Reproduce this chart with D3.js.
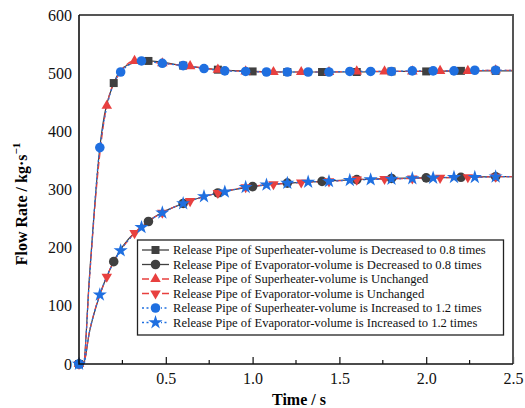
<!DOCTYPE html>
<html>
<head>
<meta charset="utf-8">
<script src="https://cdn.jsdelivr.net/npm/d3@7"></script>
<style>
  body { margin: 0; background: #fff; }
  svg { display: block; }
</style>
</head>
<body>
<svg width="525" height="408" font-family="Liberation Serif"></svg>
<script>
// values
const supDecTime = [0, 0.025, 0.06, 0.12, 0.2, 0.28, 0.4, 0.6, 0.8, 1.0, 1.2, 1.4, 1.6, 1.8, 2.0, 2.2, 2.4, 2.5];
const supDecValue = [0, 0, 150, 372, 483, 514, 521, 513, 506, 503, 502, 502, 502, 503, 503, 504, 504, 504];

const evaDecTime = [0, 0.025, 0.06, 0.12, 0.2, 0.4, 0.6, 0.8, 1.0, 1.2, 1.4, 1.6, 1.8, 2.0, 2.2, 2.4, 2.5];
const evaDecValue = [0, 0, 55, 119, 176, 245, 276, 294, 305, 311, 314, 317, 319, 320, 321, 322, 322];

const supUncTime = [0, 0.025, 0.06, 0.1, 0.16, 0.24, 0.32, 0.48, 0.64, 0.8, 0.96, 1.12, 1.28, 1.44, 1.6, 1.76, 1.92, 2.08, 2.24, 2.4, 2.5];
const supUncValue = [0, 0, 145, 300, 444, 502, 521, 517, 512, 506, 503, 502, 502, 502, 503, 503, 503, 504, 504, 505, 505];

const evaUncTime = [0, 0.025, 0.06, 0.16, 0.32, 0.48, 0.64, 0.8, 0.96, 1.12, 1.28, 1.44, 1.6, 1.76, 1.92, 2.08, 2.24, 2.4, 2.5];
const evaUncValue = [0, 0, 55, 150, 225, 260, 280, 294, 304, 309, 312, 314, 317, 318, 319, 320, 321, 322, 322];

const supIncTime = [0, 0.025, 0.06, 0.12, 0.24, 0.36, 0.48, 0.6, 0.72, 0.84, 0.96, 1.08, 1.2, 1.32, 1.44, 1.56, 1.68, 1.8, 1.92, 2.04, 2.16, 2.28, 2.4, 2.5];
const supIncValue = [0, 0, 145, 372, 502, 521, 517, 513, 508, 504, 503, 502, 502, 502, 502, 503, 503, 503, 504, 504, 504, 505, 505, 505];

const evaIncTime = [0, 0.025, 0.06, 0.12, 0.24, 0.36, 0.48, 0.6, 0.72, 0.84, 0.96, 1.08, 1.2, 1.32, 1.44, 1.56, 1.68, 1.8, 1.92, 2.04, 2.16, 2.28, 2.4, 2.5];
const evaIncValue = [0, 0, 55, 119, 195, 235, 260, 276, 288, 296, 304, 308, 311, 313, 314, 316, 317, 318, 319, 320, 321, 321, 322, 322];

const legendLabels = [
  'Release Pipe of Superheater-volume is Decreased to 0.8 times',
  'Release Pipe of Evaporator-volume is Decreased to 0.8 times',
  'Release Pipe of Superheater-volume is Unchanged',
  'Release Pipe of Evaporator-volume is Unchanged',
  'Release Pipe of Superheater-volume is Increased to 1.2 times',
  'Release Pipe of Evaporator-volume is Increased to 1.2 times',
];

const xTicks = [0.5, 1.0, 1.5, 2.0, 2.5];
const xMinorTicks = [0.25, 0.75, 1.25, 1.75, 2.25];
const yTicks = [0, 100, 200, 300, 400, 500, 600];

const FONT = 'Liberation Serif';
const gray = '#404040', red = '#e8403f', blue = '#1f6fe0';
const zip = (t, v) => t.map((d, i) => ({t: d, v: v[i]}));

// step = spacing of the markers along each line
const series = [
  {data: zip(supDecTime, supDecValue), color: gray, dash: null, sym: d3.symbolSquare, size: 64, rot: 0, step: 0.2},
  {data: zip(evaDecTime, evaDecValue), color: gray, dash: null, sym: d3.symbolCircle, size: 72, rot: 0, step: 0.2},
  {data: zip(supUncTime, supUncValue), color: red, dash: '7,3', sym: d3.symbolTriangle, size: 48, rot: 0, step: 0.16},
  {data: zip(evaUncTime, evaUncValue), color: red, dash: '7,3', sym: d3.symbolTriangle, size: 48, rot: 180, step: 0.16},
  {data: zip(supIncTime, supIncValue), color: blue, dash: '2,2.5', sym: d3.symbolCircle, size: 72, rot: 0, step: 0.12},
  {data: zip(evaIncTime, evaIncValue), color: blue, dash: '2,2.5', sym: d3.symbolStar, size: 62, rot: 0, step: 0.12},
];

const margin = {top: 15, right: 12, bottom: 44, left: 79};
const width = 525, height = 408;

const x = d3.scaleLinear().domain([0, 2.5]).range([margin.left, width - margin.right]);
const y = d3.scaleLinear().domain([0, 600]).range([height - margin.bottom, margin.top]);

const svg = d3.select('svg');

const line = d3.line().curve(d3.curveMonotoneX)
  .x(d => x(d.t))
  .y(d => y(d.v));

const isMark = (t, step) => Math.abs(t / step - Math.round(t / step)) < 1e-6;

// lines
svg.append('g').selectAll('path')
  .data(series)
  .join('path')
  .attr('d', s => line(s.data))
  .attr('fill', 'none')
  .attr('stroke', s => s.color)
  .attr('stroke-width', 1.2)
  .attr('stroke-dasharray', s => s.dash);

// markers
series.forEach(s => {
  const sym = d3.symbol(s.sym, s.size);
  svg.append('g').selectAll('path')
    .data(s.data.filter(d => isMark(d.t, s.step)))
    .join('path')
    .attr('d', sym)
    .attr('transform', d => `translate(${x(d.t)},${y(d.v)}) rotate(${s.rot})`)
    .attr('fill', s.color);
});

// x axis
{
  const g = svg.append('g')
    .attr('transform', `translate(0,${y(0)})`)
    .call(d3.axisBottom(x).tickValues(xTicks).tickFormat(d3.format('.1f')).tickSize(-7).tickPadding(9))
    .attr('font-family', FONT);
  g.select('.domain').remove();
  g.selectAll('text').attr('font-family', FONT).attr('font-size', 16).attr('fill', '#111');
  g.selectAll('.tick line').attr('stroke', '#111').attr('stroke-width', 1.2);
  g.selectAll('.minor')
    .data(xMinorTicks)
    .join('line')
    .attr('x1', d => x(d)).attr('x2', d => x(d))
    .attr('y1', 0).attr('y2', -4)
    .attr('stroke', '#111').attr('stroke-width', 1.2);
}

// y axis
{
  const g = svg.append('g')
    .attr('transform', `translate(${margin.left},0)`)
    .call(d3.axisLeft(y).tickValues(yTicks).tickSize(0).tickPadding(7))
    .attr('font-family', FONT);
  g.select('.domain').remove();
  g.selectAll('text').attr('font-family', FONT).attr('font-size', 16).attr('fill', '#111');
}

// frame
svg.append('path')
  .attr('d', `M${x(0)},${y(600)}H${x(2.5)}V${y(0)}`)
  .attr('fill', 'none').attr('stroke', '#555').attr('stroke-width', 2);
svg.append('path')
  .attr('d', `M${x(0)},${y(600)}V${y(0)}H${x(2.5)}`)
  .attr('fill', 'none').attr('stroke', '#111').attr('stroke-width', 1.6);

// axis titles
svg.append('text')
  .attr('x', 299).attr('y', 405)
  .attr('text-anchor', 'middle')
  .attr('font-family', FONT)
  .attr('font-size', 16).attr('font-weight', 'bold')
  .text('Time / s');

{
  const t = svg.append('text')
    .attr('transform', 'translate(27,204) rotate(-90)')
    .attr('text-anchor', 'middle')
    .attr('font-family', FONT)
    .attr('font-size', 16).attr('font-weight', 'bold');
  t.append('tspan').text('Flow Rate / kg·s');
  t.append('tspan').attr('dy', -7).attr('font-size', 11).text('−1');
}

// legend
{
  const lg = svg.append('g');
  lg.append('rect')
    .attr('x', 137.5).attr('y', 240)
    .attr('width', 366).attr('height', 95)
    .attr('fill', '#fff').attr('stroke', '#222').attr('stroke-width', 1.3);

  const row = lg.selectAll('g.row')
    .data(series)
    .join('g')
    .attr('transform', (d, i) => `translate(0,${250 + i * 14.5})`);

  row.append('line')
    .attr('x1', 142).attr('x2', 169)
    .attr('stroke', s => s.color).attr('stroke-width', 1.3)
    .attr('stroke-dasharray', s => s.dash);
  row.append('rect')
    .attr('x', 150).attr('y', -5).attr('width', 11).attr('height', 10)
    .attr('fill', '#fff')
    .attr('opacity', s => s.dash ? 1 : 0);
  row.append('path')
    .attr('d', s => d3.symbol(s.sym, s.size)())
    .attr('transform', s => `translate(155.5,0) rotate(${s.rot})`)
    .attr('fill', s => s.color);
  row.append('text')
    .attr('x', 173).attr('y', 4.3)
    .attr('font-family', FONT)
    .attr('font-size', 12.6).attr('fill', '#111')
    .text((d, i) => legendLabels[i]);
}
</script>
</body>
</html>
